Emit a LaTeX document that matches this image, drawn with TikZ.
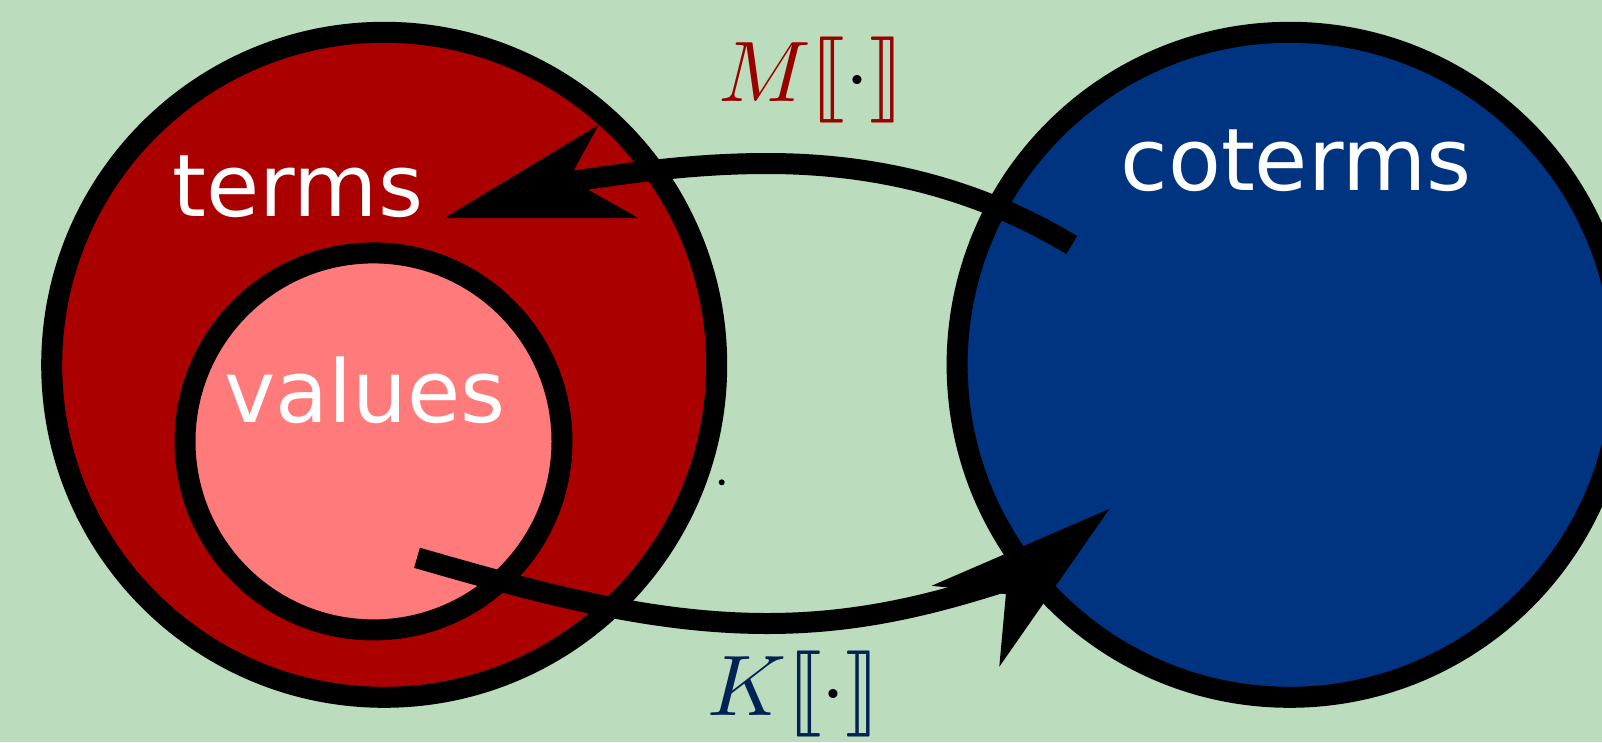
\documentclass[tikz,border=0pt]{standalone}
\usepackage{fontspec}
\usepackage{stmaryrd}
\newfontfamily\dejavu{DejaVu Sans}
\definecolor{bg}{RGB}{187,221,189}
\definecolor{tred}{RGB}{170,0,0}
\definecolor{vpink}{RGB}{255,123,123}
\definecolor{cblue}{RGB}{0,51,128}
\definecolor{mred}{RGB}{153,0,0}
\definecolor{knavy}{RGB}{0,34,85}
\begin{document}
\begin{tikzpicture}[x=1pt,y=-1pt,
  ring/.style={circle, draw=black, line width=21pt, inner sep=0pt},
  lbl/.style={text=white, font=\dejavu, scale=8.65, anchor=base, inner sep=0pt},
  mlbl/.style={scale=8.6, anchor=base, inner sep=0pt},
  shaft/.style={draw=black, line width=21pt, line cap=butt},
  head/.style={fill=black}]
\fill[bg] (0,0) rectangle (1602,742);
\useasboundingbox (0,0) rectangle (1602,742);
\clip (0,0) rectangle (1602,742);

% sets
\node[ring, fill=tred, minimum size=665pt] (terms) at (384.2,364.8) {};
\node[ring, fill=vpink, minimum size=377pt] (values) at (373.5,441.4) {};
\node[ring, fill=cblue, minimum size=665pt] (coterms) at (1289.6,364.8) {};

% labels
\node[lbl] (tl) at (298,216) {terms};
\node[lbl] (cl) at (1296,190) {coterms};
\node[lbl] (vl) at (365,422.7) {values};

% upper connector (coterms -> terms)
\coordinate (s1) at (1071.7,245);
\coordinate (p1) at (767,163.5);
\coordinate (e1) at (562,183);
\draw[shaft] (s1) .. controls (986,193.5) and (887,163.5) .. (p1)
                  .. controls (697,163.5) and (631.2,172.1) .. (e1);
\coordinate (t1) at (444.5,218);
\fill[head] (t1) -- (598.5,125) -- (569,179) -- (638.3,218) -- cycle;

% lower connector (values -> coterms)
\coordinate (s2) at (417,557.8);
\coordinate (p2) at (767,623.5);
\coordinate (e2) at (1012,579);
\draw[shaft] (s2) .. controls (532.3,590.9) and (647,623.5) .. (p2)
                  .. controls (857,623.5) and (931.2,605.3) .. (e2);
\coordinate (t2) at (1109.3,509);
\fill[head] (t2) -- (931.7,585.7) -- (1005.9,594.1) -- (999.3,666.7) -- cycle;

% arrow labels
\node[mlbl] (ml) at (811,101) {$\textcolor{mred}{M\llbracket}\mathord{\cdot}\textcolor{mred}{\rrbracket}$};
\node[mlbl] (kl) at (794,715) {$\textcolor{knavy}{K\llbracket}\mathord{\cdot}\textcolor{knavy}{\rrbracket}$};

% small dot
\node[circle, fill=black, inner sep=0pt, minimum size=6pt] (dot) at (721.7,482.3) {};
\end{tikzpicture}
\end{document}
